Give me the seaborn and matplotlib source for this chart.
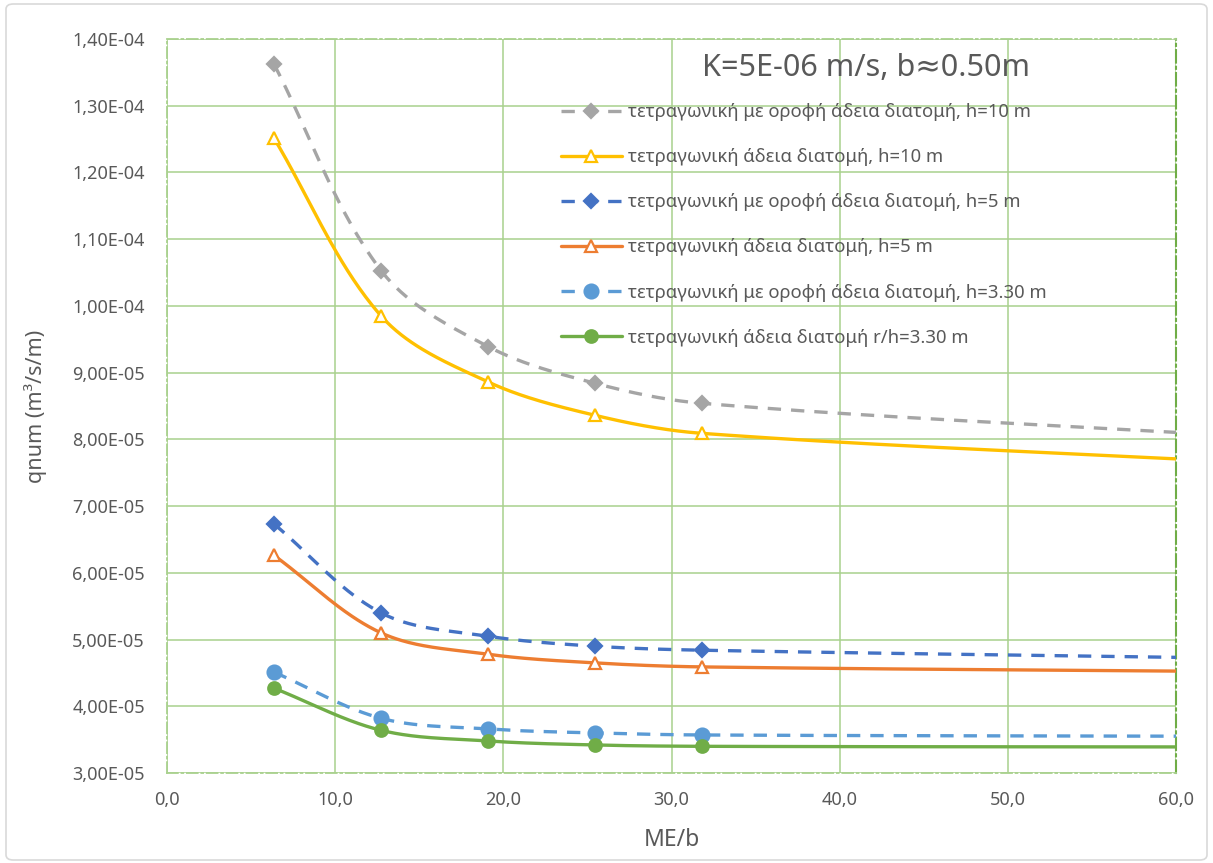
import numpy as np
import matplotlib
matplotlib.use("Agg")
import matplotlib.pyplot as plt
import seaborn as sns
from matplotlib.lines import Line2D
from matplotlib.ticker import FuncFormatter, MultipleLocator
from matplotlib.patches import FancyBboxPatch

# ---------------- data ----------------
x_me_b = [6.37, 12.73, 19.10, 25.46, 31.83, 63.66]
q_roof_h10 = [1.362e-4, 1.053e-4, 9.39e-5, 8.84e-5, 8.54e-5, 8.05e-5]
q_open_h10 = [1.251e-4, 9.85e-5, 8.86e-5, 8.36e-5, 8.09e-5, 7.66e-5]
q_roof_h5 = [6.73e-5, 5.40e-5, 5.05e-5, 4.90e-5, 4.84e-5, 4.72e-5]
q_open_h5 = [6.26e-5, 5.10e-5, 4.78e-5, 4.65e-5, 4.59e-5, 4.52e-5]
q_roof_h330 = [4.51e-5, 3.82e-5, 3.66e-5, 3.60e-5, 3.57e-5, 3.55e-5]
q_open_h330 = [4.27e-5, 3.64e-5, 3.48e-5, 3.42e-5, 3.40e-5, 3.39e-5]

labels = [
    "τετραγωνική με οροφή άδεια διατομή, h=10 m",
    "τετραγωνική άδεια διατομή, h=10 m",
    "τετραγωνική με οροφή άδεια διατομή, h=5 m",
    "τετραγωνική άδεια διατομή, h=5 m",
    "τετραγωνική με οροφή άδεια διατομή, h=3.30 m",
    "τετραγωνική άδεια διατομή r/h=3.30 m",
]
title = "K=5E-06 m/s, b≈0.50m"
x_label = "ME/b"
y_label = "qnum (m³/s/m)"

series = [q_roof_h10, q_open_h10, q_roof_h5, q_open_h5, q_roof_h330, q_open_h330]
colors = ["#A5A5A5", "#FFC000", "#4472C4", "#ED7D31", "#5B9BD5", "#70AD47"]
dashed = [True, False, True, False, True, False]
markers = ["D", "^", "D", "^", "o", "o"]
msizes = [7, 9, 7, 9, 10, 9]

XMIN, XMAX, YMIN, YMAX = 0, 60, 3e-5, 1.4e-4
AX_W_PX, AX_H_PX = 1009, 734


def smooth(xs, ys, n=60):
    """Smoothed line (Excel-like): cubic Bezier, tangents from neighbours,
    control distances scaled by segment chord, computed in screen-like units."""
    sx = AX_W_PX / (XMAX - XMIN)
    sy = AX_H_PX / (YMAX - YMIN)
    P = np.column_stack([np.asarray(xs) * sx, np.asarray(ys) * sy]).astype(float)
    m = len(P)
    D = []
    for i in range(m):
        a = P[max(i - 1, 0)]
        b = P[min(i + 1, m - 1)]
        d = b - a
        D.append(d / np.linalg.norm(d))
    out = []
    t = np.linspace(0, 1, n)[:, None]
    for i in range(m - 1):
        p1, p2 = P[i], P[i + 1]
        L = np.linalg.norm(p2 - p1)
        c1 = p1 + D[i] * L / 3.0
        c2 = p2 - D[i + 1] * L / 3.0
        seg = ((1 - t) ** 3) * p1 + 3 * ((1 - t) ** 2) * t * c1 + 3 * (1 - t) * t ** 2 * c2 + t ** 3 * p2
        out.append(seg if i == 0 else seg[1:])
    out = np.vstack(out)
    return out[:, 0] / sx, out[:, 1] / sy


sns.set_theme(style="white")
plt.rcParams["font.family"] = ["Noto Sans", "DejaVu Sans"]
txt = "#595959"

fig = plt.figure(figsize=(12.13, 8.63), dpi=100)
ax = fig.add_axes([167 / 1213, 1 - 773 / 863, (1176 - 167) / 1213, (773 - 39) / 863])

line_dash = (0, (4, 3))
for i, ys in enumerate(series):
    sxv, syv = smooth(x_me_b, ys)
    ls = line_dash if dashed[i] else "-"
    sns.lineplot(x=sxv, y=syv, sort=False, ax=ax, color=colors[i], lw=2.4,
                 linestyle=ls, estimator=None, legend=False, zorder=3)
    mfc = "white" if markers[i] == "^" else colors[i]
    ax.plot(x_me_b, ys, linestyle="none", marker=markers[i], ms=msizes[i],
            mfc=mfc, mec=colors[i], mew=1.6, zorder=4)

ax.set_xlim(XMIN, XMAX)
ax.set_ylim(YMIN, YMAX)
ax.xaxis.set_major_locator(MultipleLocator(10))
ax.yaxis.set_major_locator(MultipleLocator(1e-5))
ax.xaxis.set_major_formatter(FuncFormatter(lambda v, p: f"{v:.1f}".replace(".", ",")))
ax.yaxis.set_major_formatter(FuncFormatter(lambda v, p: f"{v:.2E}".replace(".", ",")))
ax.grid(True, color="#A9D18E", lw=1.3, alpha=0.85, zorder=0)
ax.set_axisbelow(True)
ax.tick_params(axis="both", length=0, labelsize=13, colors=txt)
ax.tick_params(axis="y", pad=16)
ax.tick_params(axis="x", pad=13)
for s in ["left", "bottom", "top"]:
    ax.spines[s].set_color("#A9D18E")
    ax.spines[s].set_linestyle((0, (6, 2, 1, 2)))
    ax.spines[s].set_linewidth(1.3)
ax.spines["right"].set_color("#70AD47")
ax.spines["right"].set_linestyle((0, (6, 2, 1, 2)))
ax.spines["right"].set_linewidth(1.5)

ax.set_xlabel(x_label, fontsize=16.5, color=txt, labelpad=14)
ax.set_ylabel(y_label, fontsize=15.5, color=txt, labelpad=18)

fig.text(866 / 1213, 1 - 68 / 863, title, ha="center", va="center", fontsize=22, color=txt)

handles = []
for i in range(6):
    mfc = "white" if markers[i] == "^" else colors[i]
    handles.append(Line2D([0], [0], color=colors[i], lw=2.4,
                          linestyle=line_dash if dashed[i] else "-",
                          marker=markers[i], ms=msizes[i], mfc=mfc, mec=colors[i], mew=1.6))
leg = fig.legend(handles, labels, loc="upper left", bbox_to_anchor=(561 / 1213, 1 - 103 / 863),
                 frameon=False, fontsize=13.3, handlelength=3.3, handletextpad=0.3,
                 labelspacing=1.47, borderpad=0, borderaxespad=0)
for t in leg.get_texts():
    t.set_color(txt)

fig.patches.append(FancyBboxPatch((6 / 1213, 3 / 863), 1201 / 1213, 856 / 863,
                                  boxstyle="round,pad=0,rounding_size=0.006",
                                  transform=fig.transFigure, fill=False,
                                  edgecolor="#D9D9D9", lw=1.2))

fig.savefig("out.png", dpi=100)
